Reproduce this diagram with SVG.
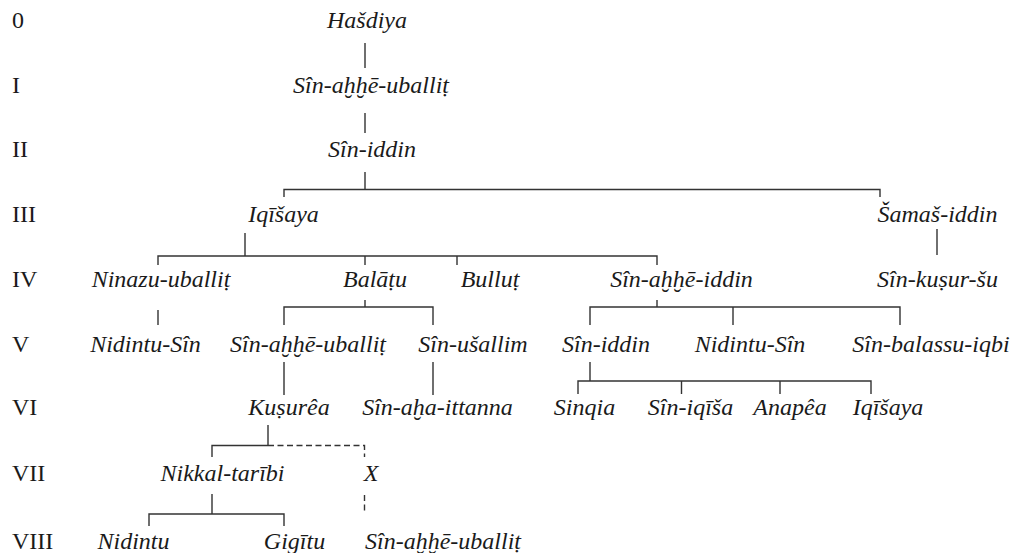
<svg xmlns="http://www.w3.org/2000/svg" width="1016" height="553" viewBox="0 0 1016 553">
<style>
.n{font-family:"Liberation Serif","Times New Roman",serif;font-style:italic;font-size:24px;fill:#1a1a1a;text-anchor:middle}
.g{font-family:"Liberation Serif","Times New Roman",serif;font-size:24px;fill:#1a1a1a}
.c{fill:none;stroke:#333;stroke-width:1.4}
.d{fill:none;stroke:#333;stroke-width:1.4;stroke-dasharray:6 3.5}
</style>
<rect width="1016" height="553" fill="#fff"/>
<g id="generations">
<text class="g" x="12" y="28">0</text>
<text class="g" x="12" y="93">I</text>
<text class="g" x="12" y="157">II</text>
<text class="g" x="12" y="222">III</text>
<text class="g" x="12" y="287">IV</text>
<text class="g" x="12" y="352">V</text>
<text class="g" x="12" y="415">VI</text>
<text class="g" x="12" y="481">VII</text>
<text class="g" x="12" y="549">VIII</text>
</g>
<g id="connectors">
<path class="c" d="M365 43V68M365 113V133M365 172V189.5M284 197V189.5H880V197"/>
<path class="c" d="M937 229V255"/>
<path class="c" d="M245 233V256M158 265V256H657V265M365 256V265M457 256V265"/>
<path class="c" d="M158 310V325"/>
<path class="c" d="M365 300V307M284 325V307H433V325"/>
<path class="c" d="M657 300V307M590 325V307H900V325M733 307V325"/>
<path class="c" d="M284 362V395M433 362V395"/>
<path class="c" d="M590 362V381M578 394V381H871V394M681.5 381V394M780 381V394"/>
<path class="c" d="M268 425V445.5M212 457V445.5H268"/>
<path class="d" d="M268 445.5H364.5V457"/>
<path class="c" d="M212 494V514M149 526V514H284V526"/>
<path class="d" d="M364.5 495V511"/>
</g>
<g id="n-hasdiya"><text class="n" x="367" y="28">Hašdiya</text></g>
<g id="n-sin-ahhe-uballit-1"><text class="n" x="371" y="93">Sîn-aḫḫē-uballiṭ</text></g>
<g id="n-sin-iddin-2"><text class="n" x="372" y="157">Sîn-iddin</text></g>
<g id="n-iqisaya-3"><text class="n" x="283.5" y="222">Iqīšaya</text></g>
<g id="n-samas-iddin"><text class="n" x="937.5" y="222">Šamaš-iddin</text></g>
<g id="n-ninazu-uballit"><text class="n" x="161" y="287">Ninazu-uballiṭ</text></g>
<g id="n-balatu"><text class="n" x="375" y="287">Balāṭu</text></g>
<g id="n-bullut"><text class="n" x="490" y="287">Bulluṭ</text></g>
<g id="n-sin-ahhe-iddin"><text class="n" x="681.5" y="287">Sîn-aḫḫē-iddin</text></g>
<g id="n-sin-kusur-su"><text class="n" x="937.5" y="287">Sîn-kuṣur-šu</text></g>
<g id="n-nidintu-sin-5a"><text class="n" x="145.5" y="352">Nidintu-Sîn</text></g>
<g id="n-sin-ahhe-uballit-5"><text class="n" x="308" y="352">Sîn-aḫḫē-uballiṭ</text></g>
<g id="n-sin-usallim"><text class="n" x="473" y="352">Sîn-ušallim</text></g>
<g id="n-sin-iddin-5"><text class="n" x="606" y="352">Sîn-iddin</text></g>
<g id="n-nidintu-sin-5b"><text class="n" x="750" y="352">Nidintu-Sîn</text></g>
<g id="n-sin-balassu-iqbi"><text class="n" x="931" y="352">Sîn-balassu-iqbi</text></g>
<g id="n-kusurea"><text class="n" x="289" y="415">Kuṣurêa</text></g>
<g id="n-sin-aha-ittanna"><text class="n" x="437.5" y="415">Sîn-aḫa-ittanna</text></g>
<g id="n-sinqia"><text class="n" x="584.5" y="415">Sinqia</text></g>
<g id="n-sin-iqisa"><text class="n" x="690.5" y="415">Sîn-iqīša</text></g>
<g id="n-anapea"><text class="n" x="790" y="415">Anapêa</text></g>
<g id="n-iqisaya-6"><text class="n" x="888" y="415">Iqīšaya</text></g>
<g id="n-nikkal-taribi"><text class="n" x="222.5" y="481">Nikkal-tarībi</text></g>
<g id="n-x"><text class="n" x="371" y="481">X</text></g>
<g id="n-nidintu"><text class="n" x="133.5" y="549">Nidintu</text></g>
<g id="n-gigitu"><text class="n" x="294.5" y="549">Gigītu</text></g>
<g id="n-sin-ahhe-uballit-8"><text class="n" x="443" y="549">Sîn-aḫḫē-uballiṭ</text></g>
</svg>
